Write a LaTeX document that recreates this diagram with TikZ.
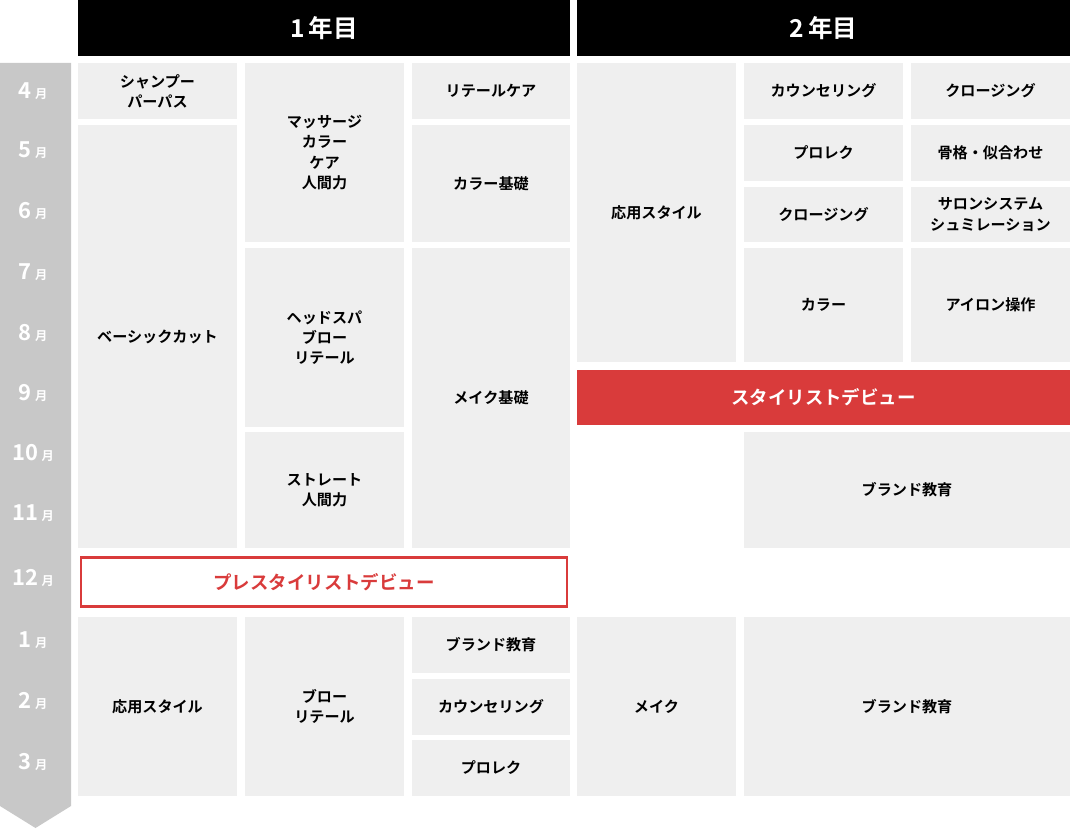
\documentclass[tikz,border=0pt]{standalone}
\usepackage{fontspec}
\usepackage{xcolor}
\setmainfont{Noto Sans CJK JP}[BoldFont={* Bold}]
\definecolor{cellgray}{HTML}{EFEFEF}
\definecolor{bargray}{HTML}{C8C8C8}
\definecolor{debut}{HTML}{D93B3B}
\tikzset{
  cellbox/.style={fill=cellgray, inner sep=0pt, outer sep=0pt, align=center,
    font=\fontsize{8.6}{11.5}\selectfont\bfseries},
  headbox/.style={fill=black, text=white, inner sep=0pt, font=\fontsize{14}{16}\selectfont\bfseries},
  monthlabel/.style={text=white, inner sep=0pt, font=\fontsize{12.5}{14}\selectfont\bfseries}
}
% box from (x1,y1) to (x2,y2) in pixels
\newcommand\cell[7][cellbox]{%
  \node[#1, minimum width={(#4-#2)*0.02cm}, minimum height={(#5-#3)*0.02cm}]
    (#6) at ({(#2+#4)/2},{(#3+#5)/2}) {#7};}
\begin{document}
\begin{tikzpicture}[x=0.02cm, y=-0.02cm]
    \useasboundingbox (0,0) rectangle (1070,828);
    % Header
    \cell[headbox]{78}{0}{570}{56}{y1}{1\,年目}
    \cell[headbox]{577}{0}{1070}{56}{y2}{2\,年目}
    
    % Month bar
    \fill[bargray] (0,63) -- (71,63) -- (71,806) -- (35.5,828) -- (0,806) -- cycle;
    \foreach \m/\y [count=\i] in {4/91,5/150,6/211,7/272,8/333,9/393,10/453,11/513,12/578,1/640,2/701,3/762} {
        \node[monthlabel] (m\i) at (33,\y) {\m\,{\fontsize{7}{8}\selectfont 月}};
    }
    
    % 1st year
    \cell{78}{63}{237}{119}{shampoo}{シャンプー\\パーパス}
    \cell{78}{125}{237}{548}{basic}{ベーシックカット}
    \cell{78}{617}{237}{796}{apply1}{応用スタイル}
    \cell{245}{63}{404}{242}{massage}{マッサージ\\カラー\\ケア\\人間力}
    \cell{245}{248}{404}{427}{headspa}{ヘッドスパ\\ブロー\\リテール}
    \cell{245}{432}{404}{548}{straight}{ストレート\\人間力}
    \cell{245}{617}{404}{796}{blow}{ブロー\\リテール}
    \cell{412}{63}{570}{119}{retail}{リテールケア}
    \cell{412}{125}{570}{242}{colorbase}{カラー基礎}
    \cell{412}{248}{570}{548}{makebase}{メイク基礎}
    \cell{412}{617}{570}{673}{brand1}{ブランド教育}
    \cell{412}{679}{570}{735}{counsel1}{カウンセリング}
    \cell{412}{740}{570}{796}{prolec1}{プロレク}
    \node[draw=debut, line width=1.4pt, fill=white, text=debut, inner sep=0pt,
        minimum width={(567-81)*0.02cm}, minimum height={(607-558)*0.02cm},
        font=\fontsize{10.5}{12}\selectfont\bfseries] (pre) at (324,582) {プレスタイリストデビュー};
    
    % 2nd year
    \cell{577}{63}{736}{362}{apply2}{応用スタイル}
    \cell{744}{63}{903}{119}{counsel2}{カウンセリング}
    \cell{744}{125}{903}{181}{prolec2}{プロレク}
    \cell{744}{187}{903}{242}{closing2}{クロージング}
    \cell{744}{248}{903}{362}{color2}{カラー}
    \cell{911}{63}{1070}{119}{closing3}{クロージング}
    \cell{911}{125}{1070}{181}{frame}{骨格・似合わせ}
    \cell{911}{187}{1070}{242}{salon}{サロンシステム\\シュミレーション}
    \cell{911}{248}{1070}{362}{iron}{アイロン操作}
    \cell[cellbox, fill=debut, text=white, font=\fontsize{10.5}{12}\selectfont\bfseries]{577}{370}{1070}{425}{debut}{スタイリストデビュー}
    \cell{744}{432}{1070}{548}{brand2}{ブランド教育}
    \cell{577}{617}{736}{796}{make}{メイク}
    \cell{744}{617}{1070}{796}{brand3}{ブランド教育}
\end{tikzpicture}
\end{document}
